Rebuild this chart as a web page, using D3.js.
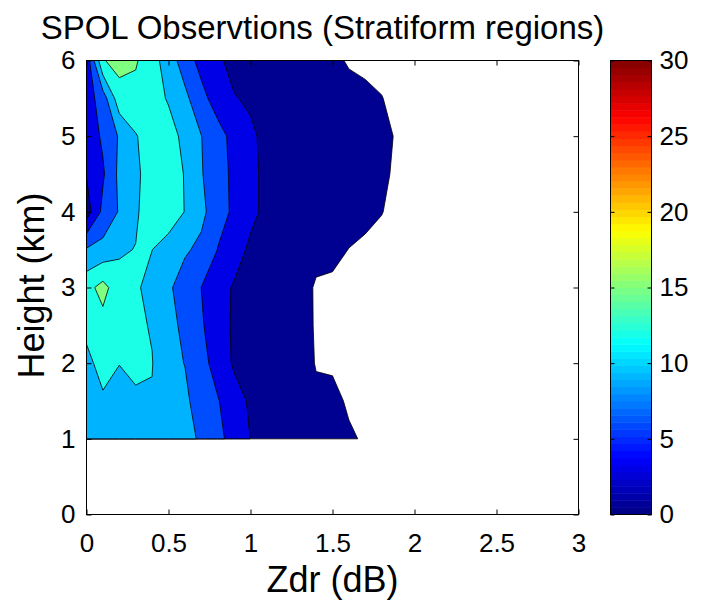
<!DOCTYPE html>
<html>
<head>
<meta charset="utf-8">
<script src="https://d3js.org/d3.v7.min.js"></script>
<style>
  body { margin: 0; background: #fff; }
  text { font-family: "Liberation Sans", Arial, sans-serif; fill: #000; }
</style>
</head>
<body>
<svg id="chart" width="702" height="600"></svg>
<script>
// grid the counts were binned on
var zdrBins = [0, 0.1, 0.2, 0.3, 0.4, 0.5, 0.6, 0.7, 0.8, 0.9, 1.0,
               1.1, 1.2, 1.3, 1.4, 1.5, 1.6, 1.7, 1.8, 1.9, 2.0];
var heights = [1, 1.5, 2, 2.5, 3, 3.5, 4, 4.5, 5, 5.5, 6];

// frequency, one row per height (bottom -> top), one value per Zdr bin
var freq = [
  [10.5, 10.8, 11, 11, 10.8, 10.5, 10.0, 8.55, 6.8, 4.85, 2.95, 2.6, 2.4, 2.2, 1.9, 1.5, 1.0, 0.07, 0, 0, 0],
  [11, 11.2, 11.3, 11.3, 11.82, 10.6, 9.5, 7.8, 6.2, 4.2, 2.6, 2.4, 2.2, 2.0, 1.1, 1.5, 0, 0, 0, 0, 0],
  [10.5, 14, 12.04, 12.97, 12.1, 9.6, 8.95, 7.0, 4.8, 2.6, 2.5, 2.4, 2.3, 2.0, 0.33, 0, 0, 0, 0, 0, 0],
  [13.5, 14, 13, 12.5, 11.8, 10.6, 7.8, 6.4, 3.9, 2.72, 2.5, 2.3, 2.2, 2.0, 0.17, 0, 0, 0, 0, 0, 0],
  [14, 16, 13.2, 12.3, 11.3, 9.6, 7.2, 5.98, 4.2, 2.7, 2.5, 2.3, 2.2, 2.0, 0.125, 0, 0, 0, 0, 0, 0],
  [9.3, 10, 11.6, 12.1, 12.02, 10.5, 9.5, 8.1, 5.95, 4.4, 2.4, 2.2, 2.0, 1.8, 1.5, 1.2, 0.45, 0, 0, 0, 0],
  [1.5, 6.8, 9.24, 11.5, 14, 14, 11.9, 10, 6.7, 5.7, 3.8, 2.2, 2.1, 2.0, 1.9, 1.8, 1.6, 1.2, 0.55, 0, 0],
  [3.17, 5.6, 9.7, 11.4, 13.4, 14, 11.8, 9.3, 6.3, 5.84, 3.8, 2.2, 2.2, 2.1, 2.0, 1.9, 1.7, 1.4, 1.0, 0, 0],
  [4, 6.5, 9.3, 11.8, 13.5, 13.3, 11.15, 9.05, 7.2, 5.0, 3.6, 2.1, 2.2, 2.2, 2.1, 2.0, 1.9, 1.7, 1.5, 0.07, 0],
  [4.5, 7.5, 13.8, 14.1, 13.3, 11.7, 9.7, 7.0, 4.5, 3.2, 2.5, 2.3, 2.2, 2.0, 1.9, 1.7, 1.4, 1.0, 0.55, 0, 0],
  [4, 14.8, 16, 15.3, 13.2, 10.5, 7.6, 4.93, 3.6, 1.9, 1.8, 1.7, 1.6, 1.5, 1.3, 1.1, 0.243, 0, 0, 0, 0]
];

// contour levels (below the first one is left unfilled)
var levels = [0.5, 3, 6, 9, 12, 15];

var xTicks = [0, 0.5, 1, 1.5, 2, 2.5, 3];
var yTicks = [0, 1, 2, 3, 4, 5, 6];
var cbarTicks = [0, 5, 10, 15, 20, 25, 30];

var svg = d3.select('#chart');

// axes box
var x = d3.scaleLinear().domain([0, 3]).range([86.5, 578.5]);
var y = d3.scaleLinear().domain([0, 6]).range([514.5, 60.5]);

// jet colormap, caxis 0..30
var jet = d3.scaleLinear()
  .domain([0, 3.75, 11.25, 18.75, 26.25, 30])
  .range(['#000080', '#0000ff', '#00ffff', '#ffff00', '#ff0000', '#800000'])
  .clamp(true);

// grid index -> data units (d3.contours puts sample i at i+0.5)
var nx = zdrBins.length, ny = heights.length;
var gx = d3.scaleLinear().domain([0.5, nx - 0.5]).range([zdrBins[0], zdrBins[nx - 1]]).clamp(true);
var gy = d3.scaleLinear().domain([0.5, ny - 0.5]).range([heights[0], heights[ny - 1]]).clamp(true);

var values = [];
freq.forEach(function(row) { row.forEach(function(v) { values.push(v); }); });

var contours = d3.contours().size([nx, ny]).thresholds(levels)(values);

var proj = d3.geoTransform({
  point: function(px, py) { this.stream.point(x(gx(px)), y(gy(py))); }
});
var path = d3.geoPath(proj);

svg.append('g')
  .selectAll('path')
  .data(contours)
  .enter()
  .append('path')
  .attr('d', path)
  .attr('fill', function(d) { return jet(d.value); })
  .attr('stroke', '#000')
  .attr('stroke-width', 0.8)
  .attr('stroke-linejoin', 'round');

// ticks pointing inwards on all four sides
var tk = 5;
svg.append('g')
  .attr('transform', 'translate(0,' + y(0) + ')')
  .call(d3.axisBottom(x).tickValues(xTicks).tickSize(-tk).tickPadding(19).tickFormat(function(d) { return d; }))
  .call(function(g) { g.select('.domain').remove(); });
svg.append('g')
  .attr('transform', 'translate(0,' + y(6) + ')')
  .call(d3.axisTop(x).tickValues(xTicks).tickSize(-tk).tickFormat(''))
  .call(function(g) { g.select('.domain').remove(); });
svg.append('g')
  .attr('transform', 'translate(' + x(0) + ',0)')
  .call(d3.axisLeft(y).tickValues(yTicks).tickSize(-tk).tickPadding(11).tickFormat(function(d) { return d; }))
  .call(function(g) { g.select('.domain').remove(); });
svg.append('g')
  .attr('transform', 'translate(' + x(3) + ',0)')
  .call(d3.axisRight(y).tickValues(yTicks).tickSize(-tk).tickFormat(''))
  .call(function(g) { g.select('.domain').remove(); });

svg.selectAll('.tick text').style('font-size', '26px').style('font-family', '"Liberation Sans", Arial, sans-serif');
svg.selectAll('.tick line').attr('stroke', '#000');

svg.append('rect')
  .attr('x', x(0)).attr('y', y(6))
  .attr('width', x(3) - x(0)).attr('height', y(0) - y(6))
  .attr('fill', 'none').attr('stroke', '#000').attr('stroke-width', 1);

// titles
svg.append('text')
  .attr('x', (x(0) + x(3)) / 2 - 10)
  .attr('y', 39)
  .attr('text-anchor', 'middle')
  .style('font-size', '33px')
  .text('SPOL Observtions (Stratiform regions)');

svg.append('text')
  .attr('x', (x(0) + x(3)) / 2)
  .attr('y', 592)
  .attr('text-anchor', 'middle')
  .style('font-size', '36px')
  .text('Zdr (dB)');

svg.append('text')
  .attr('transform', 'translate(44,' + ((y(0) + y(6)) / 2 - 2) + ') rotate(-90)')
  .attr('text-anchor', 'middle')
  .style('font-size', '36px')
  .text('Height (km)');

// colorbar
var cb = d3.scaleLinear().domain([0, 30]).range([514.5, 60.5]);
var cbLeft = 610.5, cbRight = 651.5;
var nSteps = 64;
svg.append('g')
  .selectAll('rect')
  .data(d3.range(nSteps))
  .enter()
  .append('rect')
  .attr('x', cbLeft)
  .attr('width', cbRight - cbLeft)
  .attr('y', function(i) { return cb((i + 1) * 30 / nSteps); })
  .attr('height', function(i) { return cb(i * 30 / nSteps) - cb((i + 1) * 30 / nSteps) + 0.5; })
  .attr('fill', function(i) { return jet((i + 0.5) * 30 / nSteps); });

svg.append('g')
  .attr('transform', 'translate(' + cbRight + ',0)')
  .call(d3.axisRight(cb).tickValues(cbarTicks).tickSize(-4).tickPadding(8))
  .call(function(g) { g.select('.domain').remove(); })
  .call(function(g) {
    g.selectAll('text').style('font-size', '26px');
    g.selectAll('line').attr('stroke', '#000');
  });
svg.append('g')
  .attr('transform', 'translate(' + cbLeft + ',0)')
  .call(d3.axisLeft(cb).tickValues(cbarTicks).tickSize(-4).tickFormat(''))
  .call(function(g) { g.select('.domain').remove(); g.selectAll('line').attr('stroke', '#000'); });

svg.append('rect')
  .attr('x', cbLeft).attr('y', cb(30))
  .attr('width', cbRight - cbLeft).attr('height', cb(0) - cb(30))
  .attr('fill', 'none').attr('stroke', '#000').attr('stroke-width', 1);
</script>
</body>
</html>
